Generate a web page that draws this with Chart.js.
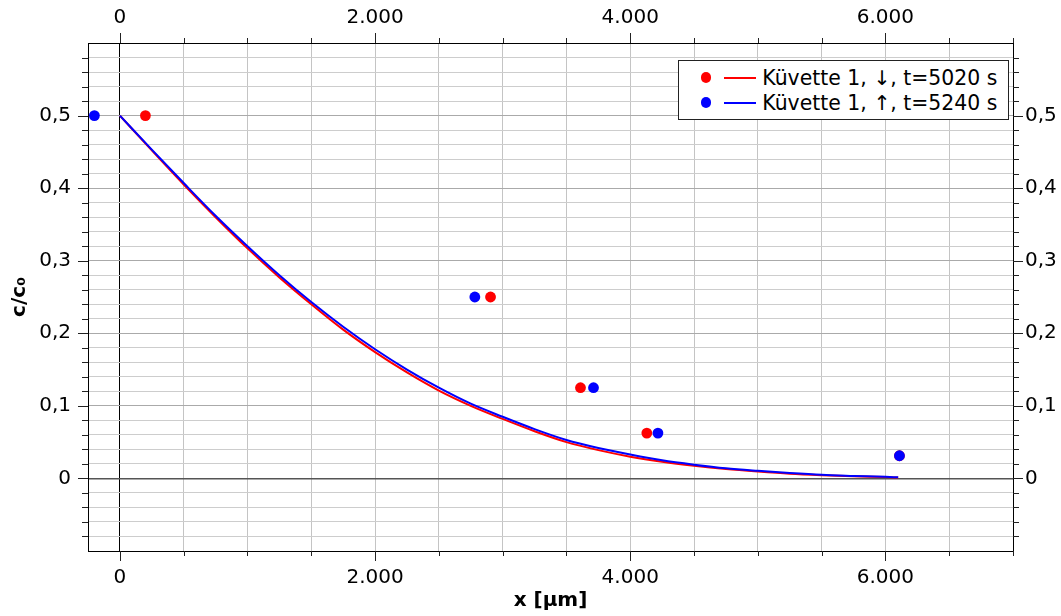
<!DOCTYPE html>
<html lang="de">
<head>
<meta charset="utf-8">
<title>Konzentrationsprofil Küvette 1</title>
<script src="https://cdn.jsdelivr.net/npm/chart.js@4/dist/chart.umd.min.js"></script>
<style>
  html, body { margin: 0; padding: 0; background: #fff; }
  #wrap { position: relative; width: 1061px; height: 616px; }
  #plot { position: absolute; left: 0; top: 0; }
  .legend {
    position: absolute; left: 678px; top: 60px; width: 329px; height: 58px;
    border: 1px solid #222; background: #fff;
    font-family: "DejaVu Sans", sans-serif; font-size: 20.4px; color: #000;
  }
  .legend .dot { position: absolute; width: 10.8px; height: 10.8px; border-radius: 50%; }
  .legend .seg { position: absolute; width: 32px; height: 2px; }
  .legend .txt { position: absolute; line-height: 22px; white-space: nowrap; }
</style>
</head>
<body>
<div id="wrap">
  <canvas id="plot" width="1061" height="616"></canvas>
  <div class="legend" id="legend"></div>
</div>
<script>
// Positions along the cell [µm] at which the model curves are tabulated
const curveX = [0, 250, 500, 750, 1000, 1250, 1500, 1750, 2000, 2250, 2500, 2750, 3000,
                3250, 3500, 3750, 4000, 4250, 4500, 4750, 5000, 5250, 5500, 5750, 6000, 6100];
// Model c/c0, cell 1, downward run (t = 5020 s)
const curveDown = [0.500, 0.452, 0.405, 0.360, 0.317, 0.277, 0.240, 0.205, 0.174, 0.146, 0.121,
                   0.100, 0.082, 0.065, 0.050, 0.039, 0.030, 0.023, 0.0175, 0.013, 0.0095, 0.0065,
                   0.0045, 0.003, 0.0018, 0.0012];
// Model c/c0, cell 1, upward run (t = 5240 s)
const curveUp = [0.500, 0.453, 0.407, 0.362, 0.320, 0.280, 0.243, 0.209, 0.178, 0.150, 0.125,
                 0.103, 0.085, 0.068, 0.053, 0.042, 0.033, 0.025, 0.019, 0.014, 0.0105, 0.0075,
                 0.005, 0.0035, 0.0022, 0.0015];
// Measured positions [µm] of the concentration levels
const measDownX = [200, 2905, 3610, 4130, 6110];
const measUpX = [-200, 2782, 3712, 4217, 6110];
const measLevels = [0.5, 0.25, 0.125, 0.0625, 0.03125];

const seriesNames = ['Küvette 1, ↓, t=5020 s', 'Küvette 1, ↑, t=5240 s'];
const seriesColors = ['#ff0000', '#0000ff'];

const xTickValues = [];
for (let v = 0; v <= 7000; v += 500) xTickValues.push(v);
const xLabelValues = [0, 2000, 4000, 6000];
// y ticks every 0.02, kept as integer fiftieths to avoid rounding noise
const yTickSteps = [];
for (let k = -5; k <= 30; k++) yTickSteps.push(k);
const yLabelSteps = [0, 5, 10, 15, 20, 25];

const FONT = '"DejaVu Sans", sans-serif';
const TICK_SIZE = 20;

function fmtX(v) {
  return String(v).replace(/\B(?=(\d{3})+(?!\d))/g, '.');
}
function fmtY(v) {
  const k = Math.round(v * 50);
  if (!yLabelSteps.includes(k)) return '';
  return k === 0 ? '0' : (k / 50).toFixed(1).replace('.', ',');
}
function xLabel(v) {
  return xLabelValues.includes(v) ? fmtX(v) : '';
}

const pairs = (xs, ys) => xs.map((x, i) => ({ x: x, y: ys[i] }));

function xScale(position, height, labelPad) {
  return {
    type: 'linear', position: position, min: -250, max: 7000,
    afterBuildTicks: s => { s.ticks = xTickValues.map(v => ({ value: v })); },
    afterFit: s => { s.height = height; },
    ticks: {
      autoSkip: false, maxRotation: 0, padding: labelPad,
      color: '#000', font: { family: FONT, size: TICK_SIZE },
      callback: v => xLabel(v)
    },
    grid: position === 'bottom' ? {
      drawTicks: false,
      color: c => (c.tick && c.tick.value === 0) ? '#000' : '#c4c4c4',
      lineWidth: 1
    } : { drawOnChartArea: false, drawTicks: false },
    border: { display: true, color: '#000', width: 1 }
  };
}
function yScale(position, width, labelPad) {
  return {
    type: 'linear', position: position, min: -0.1, max: 0.6,
    afterBuildTicks: s => { s.ticks = yTickSteps.map(k => ({ value: k / 50 })); },
    afterFit: s => { s.width = width; },
    ticks: {
      autoSkip: false, padding: labelPad,
      color: '#000', font: { family: FONT, size: TICK_SIZE },
      callback: v => fmtY(v)
    },
    grid: position === 'left' ? {
      drawTicks: false,
      color: c => {
        if (!c.tick) return '#cdcdcd';
        const k = Math.round(c.tick.value * 50);
        if (k === 0) return '#555';
        return k % 5 === 0 ? '#aaaaaa' : '#cdcdcd';
      },
      lineWidth: c => (c.tick && Math.round(c.tick.value * 50) === 0) ? 1.6 : 1
    } : { drawOnChartArea: false, drawTicks: false },
    border: { display: true, color: '#000', width: 1 }
  };
}

// Outward tick marks: long ones at labelled values, short ones elsewhere
const tickMarks = {
  id: 'tickMarks',
  afterDraw(chart) {
    const ctx = chart.ctx;
    ctx.save();
    ctx.strokeStyle = '#222';
    ctx.lineWidth = 1;
    ctx.beginPath();
    for (const id of ['x', 'x2']) {
      const s = chart.scales[id];
      const edge = id === 'x' ? s.top : s.bottom;
      const dir = id === 'x' ? 1 : -1;
      for (const v of xTickValues) {
        const px = Math.round(s.getPixelForValue(v)) + 0.5;
        const len = xLabelValues.includes(v) ? 10 : 5;
        ctx.moveTo(px, edge);
        ctx.lineTo(px, edge + dir * len);
      }
    }
    for (const id of ['y', 'y2']) {
      const s = chart.scales[id];
      const edge = id === 'y' ? s.right : s.left;
      const dir = id === 'y' ? -1 : 1;
      for (const k of yTickSteps) {
        if (k === -5 || k === 30) continue;
        const py = Math.round(s.getPixelForValue(k / 50)) + 0.5;
        const len = yLabelSteps.includes(k) ? 10 : 6;
        ctx.moveTo(edge, py);
        ctx.lineTo(edge + dir * len, py);
      }
    }
    ctx.stroke();
    ctx.restore();
  }
};

const whiteBg = {
  id: 'whiteBg',
  beforeDraw(chart) {
    const ctx = chart.ctx;
    ctx.save();
    ctx.fillStyle = '#fff';
    ctx.fillRect(0, 0, chart.width, chart.height);
    ctx.restore();
  }
};

new Chart(document.getElementById('plot'), {
  type: 'scatter',
  data: {
    datasets: [
      {
        label: seriesNames[0], data: pairs(curveX, curveDown), showLine: true,
        borderColor: seriesColors[0], borderWidth: 2, pointRadius: 0,
        cubicInterpolationMode: 'monotone', order: 4
      },
      {
        label: seriesNames[1], data: pairs(curveX, curveUp), showLine: true,
        borderColor: seriesColors[1], borderWidth: 2, pointRadius: 0,
        cubicInterpolationMode: 'monotone', order: 3
      },
      {
        label: seriesNames[0], data: pairs(measDownX, measLevels), showLine: false,
        backgroundColor: seriesColors[0], borderWidth: 0, pointRadius: 5.4, order: 2
      },
      {
        label: seriesNames[1], data: pairs(measUpX, measLevels), showLine: false,
        backgroundColor: seriesColors[1], borderWidth: 0, pointRadius: 5.4, order: 1
      }
    ]
  },
  options: {
    responsive: false,
    animation: false,
    devicePixelRatio: 1,
    layout: { padding: 0 },
    plugins: { legend: { display: false }, tooltip: { enabled: false } },
    scales: {
      x: Object.assign(xScale('bottom', 65, 15), {
        title: {
          display: true, text: 'x [µm]', color: '#000',
          font: { family: FONT, size: 20, weight: 'bold' },
          padding: { top: 0, bottom: 3 }
        }
      }),
      x2: xScale('top', 43, 13),
      y: Object.assign(yScale('left', 88, 17), {
        title: {
          display: true, text: 'c/c₀', color: '#000',
          font: { family: FONT, size: 20, weight: 'bold' },
          padding: { top: 8, bottom: 0 }
        }
      }),
      y2: yScale('right', 48, 12)
    }
  },
  plugins: [whiteBg, tickMarks]
});

// Legend box: marker dot, line sample and label for each series
const legend = document.getElementById('legend');
seriesNames.forEach((name, i) => {
  const rowTop = i * 25;
  const dot = document.createElement('div');
  dot.className = 'dot';
  dot.style.left = '21.6px';
  dot.style.top = (11.3 + rowTop) + 'px';
  dot.style.background = seriesColors[i];
  const seg = document.createElement('div');
  seg.className = 'seg';
  seg.style.left = '45px';
  seg.style.top = (15.7 + rowTop) + 'px';
  seg.style.background = seriesColors[i];
  const txt = document.createElement('span');
  txt.className = 'txt';
  txt.style.left = '83.3px';
  txt.style.top = (5.8 + rowTop) + 'px';
  txt.textContent = name;
  legend.appendChild(dot);
  legend.appendChild(seg);
  legend.appendChild(txt);
});
</script>
</body>
</html>
